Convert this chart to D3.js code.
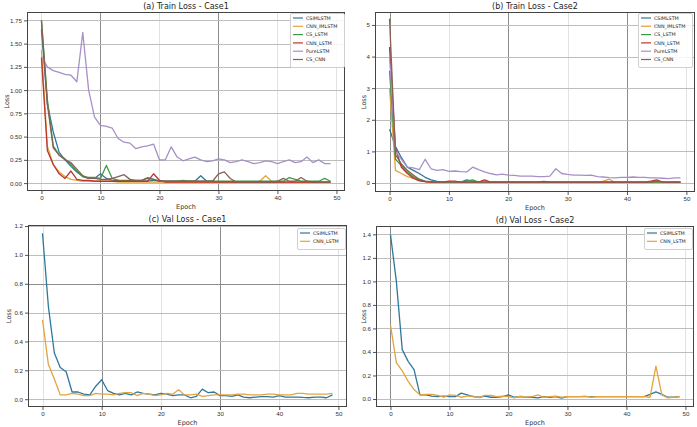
<!DOCTYPE html>
<html>
<head>
<meta charset="utf-8">
<script src="https://cdn.jsdelivr.net/npm/d3@7"></script>
<style>
  body { margin: 0; background: #fff; }
  svg { font-family: "DejaVu Sans", sans-serif; }
</style>
</head>
<body>
<svg class="svg"></svg>
<script>
let epochs = d3.range(0, 50)

let names6 = ["CSIMLSTM", "CNN_IMLSTM", "CS_LSTM", "CNN_LSTM", "PureLSTM", "CS_CNN"]
let names2 = ["CSIMLSTM", "CNN_LSTM"]

// (a) Train Loss - Case1
let a_csim = [1.65,0.85,0.55,0.33,0.25,0.18,0.12,0.07,0.05,0.05,0.10,0.05,0.03,0.03,0.02,0.02,0.02,0.02,0.02,0.03,0.02,0.02,0.02,0.02,0.02,0.02,0.02,0.08,0.02,0.02,0.01,0.01,0.01,0.01,0.01,0.01,0.01,0.01,0.01,0.01,0.01,0.01,0.01,0.01,0.01,0.01,0.01,0.01,0.01,0.01]
let a_cnnim = [1.43,0.40,0.20,0.12,0.07,0.04,0.03,0.02,0.02,0.02,0.02,0.02,0.02,0.01,0.01,0.01,0.01,0.01,0.01,0.01,0.01,0.01,0.01,0.01,0.01,0.01,0.01,0.01,0.01,0.01,0.01,0.01,0.01,0.01,0.01,0.01,0.01,0.02,0.08,0.02,0.01,0.01,0.01,0.01,0.01,0.01,0.01,0.01,0.01,0.01]
let a_cslstm = [1.75,0.90,0.40,0.30,0.26,0.20,0.13,0.07,0.06,0.06,0.05,0.19,0.05,0.03,0.03,0.03,0.03,0.03,0.06,0.04,0.02,0.02,0.02,0.02,0.03,0.02,0.02,0.02,0.02,0.02,0.02,0.02,0.02,0.02,0.02,0.02,0.02,0.02,0.02,0.02,0.02,0.02,0.06,0.04,0.02,0.02,0.02,0.02,0.05,0.02]
let a_cnnlstm = [1.35,0.35,0.20,0.10,0.05,0.13,0.04,0.03,0.03,0.02,0.02,0.02,0.02,0.02,0.02,0.02,0.02,0.02,0.02,0.10,0.03,0.01,0.01,0.01,0.01,0.01,0.01,0.01,0.01,0.01,0.01,0.01,0.01,0.01,0.01,0.01,0.01,0.01,0.01,0.01,0.01,0.01,0.01,0.01,0.01,0.01,0.01,0.01,0.01,0.01]
let a_pure = [1.36,1.25,1.21,1.19,1.17,1.16,1.09,1.62,1.00,0.71,0.62,0.61,0.59,0.48,0.44,0.43,0.37,0.39,0.40,0.42,0.25,0.25,0.39,0.28,0.24,0.26,0.28,0.25,0.23,0.24,0.26,0.25,0.22,0.23,0.25,0.23,0.21,0.22,0.24,0.23,0.21,0.23,0.25,0.22,0.23,0.28,0.22,0.25,0.21,0.21]
let a_cscnn = [1.75,0.85,0.38,0.30,0.25,0.22,0.15,0.08,0.05,0.05,0.04,0.04,0.05,0.07,0.09,0.04,0.03,0.03,0.05,0.04,0.02,0.02,0.02,0.02,0.02,0.02,0.02,0.02,0.02,0.02,0.10,0.12,0.05,0.01,0.01,0.01,0.01,0.01,0.01,0.01,0.02,0.05,0.02,0.02,0.06,0.02,0.01,0.01,0.01,0.01]

// (b) Train Loss - Case2
let b_csim = [1.70,1.15,0.80,0.50,0.40,0.30,0.18,0.10,0.05,0.03,0.03,0.03,0.03,0.10,0.05,0.03,0.03,0.03,0.03,0.03,0.03,0.03,0.03,0.03,0.03,0.03,0.03,0.03,0.03,0.03,0.02,0.02,0.02,0.02,0.02,0.02,0.02,0.02,0.02,0.02,0.02,0.02,0.02,0.02,0.02,0.03,0.02,0.02,0.02,0.02]
let b_cnnim = [3.00,0.40,0.30,0.20,0.15,0.08,0.04,0.03,0.03,0.02,0.02,0.02,0.02,0.02,0.02,0.02,0.02,0.02,0.02,0.02,0.02,0.02,0.02,0.02,0.02,0.02,0.02,0.02,0.02,0.02,0.02,0.02,0.02,0.02,0.02,0.02,0.06,0.12,0.02,0.02,0.02,0.02,0.02,0.02,0.02,0.02,0.02,0.02,0.02,0.02]
let b_cslstm = [3.55,0.75,0.55,0.35,0.20,0.10,0.05,0.04,0.03,0.03,0.03,0.03,0.03,0.06,0.10,0.03,0.03,0.03,0.03,0.03,0.03,0.03,0.03,0.03,0.03,0.03,0.03,0.03,0.03,0.03,0.03,0.03,0.03,0.03,0.03,0.03,0.03,0.03,0.03,0.03,0.03,0.03,0.03,0.03,0.03,0.03,0.03,0.03,0.03,0.03]
let b_cnnlstm = [4.30,1.10,0.50,0.30,0.15,0.07,0.04,0.03,0.03,0.03,0.06,0.06,0.03,0.03,0.03,0.03,0.10,0.03,0.03,0.03,0.03,0.03,0.03,0.03,0.03,0.03,0.05,0.03,0.03,0.03,0.03,0.03,0.03,0.03,0.03,0.03,0.03,0.03,0.03,0.03,0.03,0.03,0.03,0.03,0.06,0.10,0.03,0.03,0.03,0.03]
let b_pure = [4.00,1.00,0.75,0.50,0.48,0.42,0.75,0.45,0.40,0.42,0.37,0.38,0.36,0.35,0.50,0.42,0.35,0.30,0.26,0.28,0.25,0.24,0.22,0.22,0.22,0.20,0.20,0.22,0.45,0.30,0.27,0.25,0.25,0.24,0.25,0.20,0.19,0.17,0.16,0.18,0.18,0.19,0.18,0.18,0.16,0.16,0.15,0.14,0.16,0.16]
let b_cscnn = [5.20,0.90,0.60,0.40,0.25,0.12,0.06,0.04,0.03,0.03,0.03,0.03,0.03,0.03,0.03,0.03,0.03,0.03,0.03,0.03,0.03,0.03,0.03,0.03,0.03,0.03,0.03,0.03,0.03,0.03,0.03,0.03,0.03,0.03,0.03,0.03,0.03,0.03,0.03,0.03,0.03,0.03,0.03,0.03,0.03,0.06,0.03,0.03,0.03,0.03]

// (c) Val Loss - Case1
let c_csim = [1.15,0.64,0.32,0.22,0.19,0.05,0.05,0.035,0.03,0.09,0.135,0.06,0.04,0.03,0.04,0.03,0.05,0.04,0.035,0.03,0.04,0.035,0.025,0.03,0.03,0.01,0.02,0.07,0.045,0.05,0.025,0.025,0.02,0.03,0.015,0.01,0.015,0.018,0.018,0.015,0.025,0.015,0.015,0.015,0.012,0.01,0.015,0.015,0.01,0.03]
let c_cnnlstm = [0.55,0.24,0.14,0.03,0.03,0.04,0.035,0.025,0.025,0.04,0.035,0.035,0.03,0.04,0.045,0.045,0.025,0.04,0.035,0.025,0.03,0.04,0.035,0.065,0.03,0.03,0.035,0.02,0.025,0.03,0.03,0.03,0.03,0.035,0.035,0.03,0.03,0.03,0.035,0.035,0.03,0.03,0.03,0.04,0.04,0.035,0.035,0.035,0.035,0.04]

// (d) Val Loss - Case2
let d_csim = [1.40,1.00,0.42,0.32,0.25,0.035,0.035,0.025,0.02,0.025,0.02,0.02,0.05,0.035,0.02,0.015,0.025,0.015,0.015,0.02,0.035,0.015,0.02,0.015,0.015,0.01,0.02,0.015,0.02,0.008,0.02,0.02,0.02,0.02,0.02,0.02,0.02,0.02,0.02,0.02,0.02,0.02,0.02,0.02,0.04,0.06,0.04,0.015,0.015,0.02]
let d_cnnlstm = [0.63,0.31,0.24,0.15,0.08,0.035,0.04,0.04,0.03,0.015,0.035,0.03,0.015,0.025,0.025,0.012,0.03,0.03,0.02,0.025,0.02,0.01,0.025,0.015,0.02,0.035,0.015,0.02,0.025,0.015,0.02,0.02,0.02,0.025,0.015,0.02,0.02,0.02,0.02,0.02,0.02,0.02,0.02,0.02,0.015,0.28,0.035,0.01,0.015,0.02]

let colors6 = ["#2e789e", "#e2a440", "#3e9a42", "#b9352e", "#a690c6", "#8a5e55"]
let colors2 = ["#2e789e", "#e2a440"]

let panels = [
    {title:"(a) Train Loss - Case1", series:[a_csim,a_cnnim,a_cslstm,a_cnnlstm,a_pure,a_cscnn], names:names6, colors:colors6,
     box:[27,345,12,191], ydom:[-0.085,1.84], yticks:[0,0.25,0.5,0.75,1,1.25,1.5,1.75], fmt:".2f", darkX:[10,30], darkY:[],
     legend:[290,13,54,54], ylab:5},
    {title:"(b) Train Loss - Case2", series:[b_csim,b_cnnim,b_cslstm,b_cnnlstm,b_pure,b_cscnn], names:names6, colors:colors6,
     box:[375,695,12,192], ydom:[-0.285,5.41], yticks:[0,1,2,3,4,5], fmt:"d", darkX:[0,20,40], darkY:[],
     legend:[638,13,54,54], ylab:362},
    {title:"(c) Val Loss - Case1", series:[c_csim,c_cnnlstm], names:names2, colors:colors2,
     box:[28,347,225,407], ydom:[-0.054,1.207], yticks:[0,0.2,0.4,0.6,0.8,1,1.2], fmt:".1f", darkX:[10,30], darkY:[0.8],
     legend:[297,228,48,21], ylab:7},
    {title:"(d) Val Loss - Case2", series:[d_csim,d_cnnlstm], names:names2, colors:colors2,
     box:[376,694,226,407], ydom:[-0.068,1.471], yticks:[0,0.2,0.4,0.6,0.8,1,1.2,1.4], fmt:".1f", darkX:[0,20,40], darkY:[],
     legend:[644,228,48,21], ylab:362}
]

let svg = d3.select(".svg").attr("width",697).attr("height",427)

panels.forEach((p) => {
    let [l, r, t, b] = p.box
    let x = d3.scaleLinear().domain([-2.45, 51.45]).range([l, r])
    let y = d3.scaleLinear().domain(p.ydom).range([b, t])
    let g = svg.append("g")

    // grid
    g.selectAll(".gx").data([0,10,20,30,40,50]).enter().append("line")
        .attr("x1", d => Math.round(x(d)) + 0.5).attr("x2", d => Math.round(x(d)) + 0.5)
        .attr("y1", t).attr("y2", b)
        .attr("stroke", d => p.darkX.includes(d) ? "#8c8c8c" : "#e2e2e2").attr("stroke-width", 1)
    g.selectAll(".gy").data(p.yticks).enter().append("line")
        .attr("y1", d => Math.round(y(d)) + 0.5).attr("y2", d => Math.round(y(d)) + 0.5)
        .attr("x1", l).attr("x2", r)
        .attr("stroke", d => p.darkY.includes(d) ? "#8c8c8c" : "#bdbdbd").attr("stroke-width", 1)

    // axes
    let xAxis = d3.axisBottom(x).tickValues([0,10,20,30,40,50]).tickSize(3).tickPadding(2)
    let yAxis = d3.axisLeft(y).tickValues(p.yticks).tickSize(3).tickPadding(2).tickFormat(d3.format(p.fmt))
    let gx = g.append("g").attr("transform", "translate(0," + b + ")").call(xAxis)
    let gy = g.append("g").attr("transform", "translate(" + l + ",0)").call(yAxis)
    ;[gx, gy].forEach(a => {
        a.select(".domain").remove()
        a.selectAll("text").style("font-size", "6.2px").attr("fill", "#333")
        a.selectAll("line").attr("stroke", "#555")
    })

    // lines
    let line = d3.line().x((d, i) => x(epochs[i])).y(d => y(d))
    p.series.forEach((s, i) => {
        g.append("path").datum(s).attr("d", line)
            .attr("fill", "none").attr("stroke", p.colors[i]).attr("stroke-width", 1.3)
            .attr("stroke-linejoin", "round")
    })

    // frame
    g.append("rect").attr("x", l + 0.5).attr("y", t + 0.5).attr("width", r - l - 1).attr("height", b - t - 1)
        .attr("fill", "none").attr("stroke", "#444").attr("stroke-width", 1)

    // titles
    g.append("text").attr("x", (l + r) / 2).attr("y", t - 3).attr("text-anchor", "middle")
        .style("font-size", "8px").attr("fill", "#222").text(p.title)
    g.append("text").attr("x", (l + r) / 2).attr("y", b + 18).attr("text-anchor", "middle")
        .style("font-size", "6.5px").attr("fill", "#333").text("Epoch")
    g.append("text").attr("transform", "translate(" + (p.ylab + 4) + "," + ((t + b) / 2) + ") rotate(-90)")
        .attr("text-anchor", "middle").style("font-size", "6.5px").attr("fill", "#333").text("Loss")

    // legend
    let [lx, ly, lw, lh] = p.legend
    let leg = g.append("g")
    leg.append("rect").attr("x", lx + 0.5).attr("y", ly + 0.5).attr("width", lw).attr("height", lh).attr("rx", 1.5)
        .attr("fill", "#fff").attr("fill-opacity", 0.85).attr("stroke", "#d0d0d0")
    p.names.forEach((n, i) => {
        let yy = ly + 5 + i * 8.3
        leg.append("line").attr("x1", lx + 3).attr("x2", lx + 13).attr("y1", yy).attr("y2", yy)
            .attr("stroke", p.colors[i]).attr("stroke-width", 1.2)
        leg.append("text").attr("x", lx + 16).attr("y", yy + 1.7).style("font-size", "4.8px")
            .attr("fill", "#222").text(n)
    })
})
</script>
</body>
</html>
